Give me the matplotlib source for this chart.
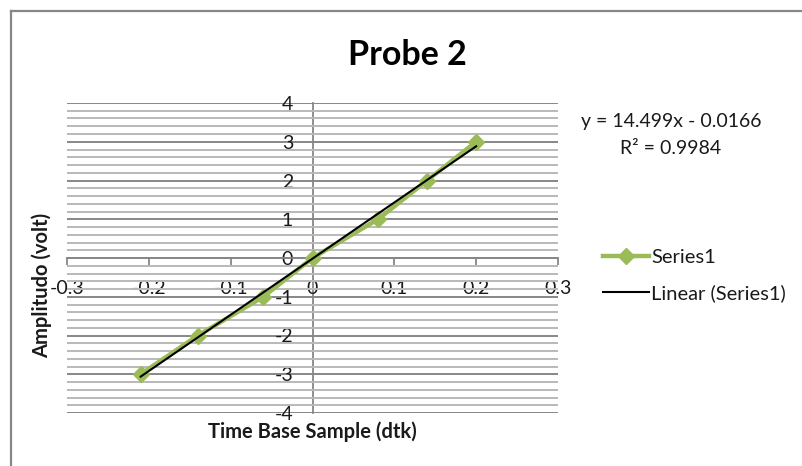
from matplotlib import pyplot as plt
from matplotlib.lines import Line2D
import matplotlib
import numpy as np

plt.rcParams['font.family'] = ['Lato', 'DejaVu Sans']
plt.rcParams['axes.unicode_minus'] = False

# data
time_base = [-0.21, -0.14, -0.06, 0.0, 0.08, 0.14, 0.2]
amplitude = [-3, -2, -1, 0, 1, 2, 3]
# trendline shown by the chart
slope = 14.499
intercept = -0.0166
r_squared = 0.9984

W, H = 802, 466
fig = plt.figure(figsize=(W / 100, H / 100), dpi=100)
ax = fig.add_axes([67 / W, 1 - 413 / H, 491 / W, 310 / H])

grey = '#878787'
light = '#b9b9b9'
text_col = '#1a1a1a'

ax.set_xlim(-0.3, 0.3)
ax.set_ylim(-4, 4)
ax.xaxis.set_major_locator(matplotlib.ticker.MultipleLocator(0.1))
ax.yaxis.set_major_locator(matplotlib.ticker.MultipleLocator(1))
ax.yaxis.set_minor_locator(matplotlib.ticker.MultipleLocator(0.2))
ax.xaxis.set_major_formatter(matplotlib.ticker.FuncFormatter(
    lambda v, p: '0' if abs(v) < 1e-9 else ('%.1f' % v)))

# garis grid
ax.grid(axis='y', which='major', color=grey, lw=1.4)
ax.grid(axis='y', which='minor', color=light, lw=1.4)
ax.set_axisbelow(True)

for s in ['top', 'right']:
    ax.spines[s].set_visible(False)
ax.spines['left'].set_position(('data', 0))
ax.spines['bottom'].set_position(('data', 0))
ax.spines['left'].set_color(grey)
ax.spines['bottom'].set_color(grey)
ax.spines['left'].set_linewidth(1.3)
ax.spines['bottom'].set_linewidth(1.3)
ax.spines['left'].set_zorder(0.5)

ax.tick_params(axis='x', which='major', direction='out', length=5,
               width=1.3, color=grey, pad=11, labelsize=14,
               labelcolor=text_col)
ax.tick_params(axis='y', which='both', length=0, pad=14, labelsize=14,
               labelcolor=text_col)

# data series
ax.plot(time_base, amplitude, color='#9bbb59', lw=3.2, marker='D',
        markersize=8, label='Series1', zorder=3)

# linear trendline
tx = np.array([min(time_base), max(time_base)])
ax.plot(tx, slope * tx + intercept, color='black', lw=1.5,
        label='Linear (Series1)', zorder=4)

fig.text(407 / W, 1 - 55 / H, 'Probe 2', ha='center', va='center',
         fontsize=24.5, fontweight='bold', color='black')
fig.text(42 / W, 1 - 285 / H, 'Amplitudo (volt)', rotation=90,
         ha='center', va='center', fontsize=14.5, fontweight='bold',
         color=text_col)
fig.text(312 / W, 1 - 432 / H, 'Time Base Sample (dtk)', ha='center',
         va='center', fontsize=14.5, fontweight='bold', color=text_col)

sign = '-' if intercept < 0 else '+'
fig.text(671 / W, 1 - 122 / H,
         'y = %.3fx %s %.4f' % (slope, sign, abs(intercept)),
         ha='center', va='center', fontsize=14, color=text_col)
fig.text(671 / W, 1 - 148 / H, 'R² = %.4f' % r_squared,
         ha='center', va='center', fontsize=14, color=text_col)

leg = ax.legend(loc='upper left', bbox_to_anchor=(603 / W, 1 - 249 / H),
                bbox_transform=fig.transFigure, frameon=False,
                fontsize=14.5, handlelength=2.3, handletextpad=0.1,
                labelspacing=0.9, borderpad=0, borderaxespad=0)
for t in leg.get_texts():
    t.set_color(text_col)

# rangka grafik
fig.add_artist(Line2D([11 / W, 11 / W], [0, 1 - 11 / H], color=grey,
                      lw=1.6, transform=fig.transFigure))
fig.add_artist(Line2D([11 / W, 1], [1 - 11 / H, 1 - 11 / H], color=grey,
                      lw=1.6, transform=fig.transFigure))

fig.savefig('out.png', dpi=100)
